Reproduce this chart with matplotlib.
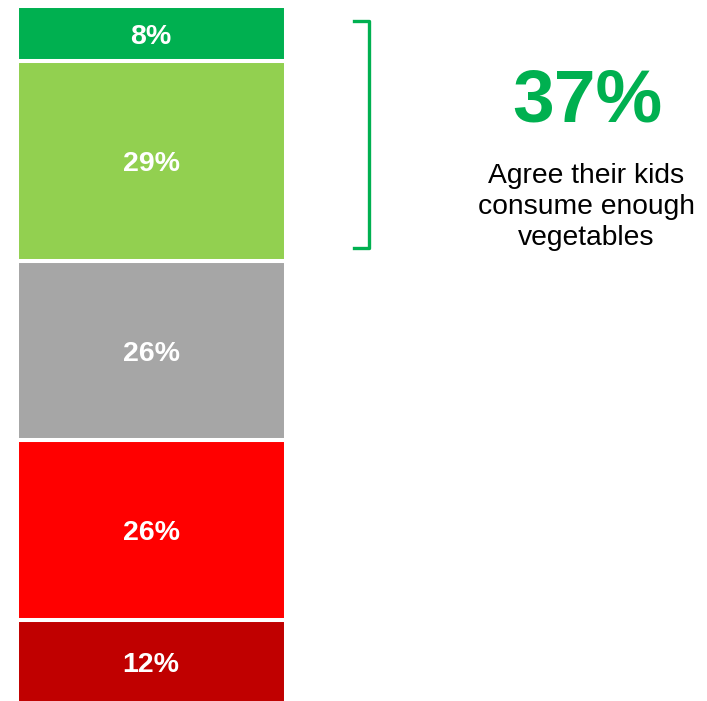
import matplotlib.pyplot as plt
from matplotlib.lines import Line2D

plt.rcParams['font.family'] = ['Liberation Sans', 'DejaVu Sans']

# stacked shares, bottom to top
segments = ["Strongly disagree", "Disagree", "Neutral", "Agree", "Strongly agree"]
shares = [12, 26, 26, 29, 8]
colors = ["#C00000", "#FF0000", "#A6A6A6", "#92D050", "#00B050"]
agree_total = 37
agree_text = "Agree their kids\nconsume enough\nvegetables"

W, H = 707, 701
fig = plt.figure(figsize=(W / 100, H / 100), dpi=100)

# bar axes fills the left column
ax = fig.add_axes([16.5 / W, -1.5 / H, 269 / W, (H - 7 + 3) / H])
bottom = 0
for name, val, col in zip(segments, shares, colors):
    ax.bar(0, val, bottom=bottom, width=1, color=col, edgecolor="white",
           linewidth=2.9, align="edge")
    ax.annotate(f"{val}%", (0.5, bottom + val / 2), xytext=(0, -2.5),
                textcoords="offset points", ha="center", va="center",
                color="white", fontsize=20.5, fontweight="bold")
    bottom += val
ax.set_xlim(0, 1)
ax.set_ylim(0, sum(shares))
ax.axis("off")

# bracket around the agree segments
bx0, bx1 = 354 / W, 369 / W
by0, by1 = 1 - 21 / H, 1 - 248 / H
fig.add_artist(Line2D([bx0, bx1, bx1, bx0], [by0, by0, by1, by1],
                      transform=fig.transFigure, color="#00B050",
                      linewidth=2.4, solid_joinstyle="round"))

fig.text(587 / W, 1 - 102.5 / H, f"{agree_total}%", ha="center", va="center",
         color="#00B050", fontsize=54, fontweight="bold")
fig.text(586 / W, 1 - 207 / H, agree_text, ha="center", va="center",
         color="black", fontsize=20.3, linespacing=1.24)

fig.savefig("out.png", dpi=100)
